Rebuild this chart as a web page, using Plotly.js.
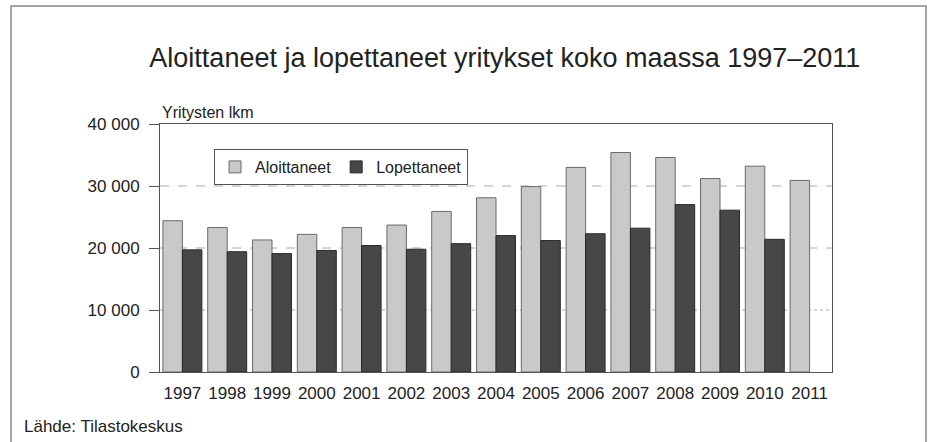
<!DOCTYPE html>
<html>
<head>
<meta charset="utf-8">
<script src="https://cdn.plot.ly/plotly-3.0.1.min.js"></script>
<style>html,body{margin:0;padding:0;background:#fff;}#chart{width:928px;height:442px;}</style>
</head>
<body>
<div id="chart"></div>
<script>
const years = ['1997','1998','1999','2000','2001','2002','2003','2004','2005','2006','2007','2008','2009','2010','2011'];
const aloittaneet = [24400, 23300, 21300, 22200, 23300, 23700, 25900, 28100, 29900, 33000, 35400, 34600, 31200, 33200, 30900];
const lopettaneet = [19700, 19400, 19100, 19600, 20400, 19800, 20700, 22000, 21200, 22300, 23200, 27000, 26100, 21400, null];
const tickVals = [0, 10000, 20000, 30000, 40000];
const tickText = ['0', '10 000', '20 000', '30 000', '40 000'];
const seriesNames = ['Aloittaneet', 'Lopettaneet'];
const titleText = 'Aloittaneet ja lopettaneet yritykset koko maassa 1997–2011';
const yTitle = 'Yritysten lkm';
const sourceText = 'Lähde: Tilastokeskus';

const font = 'Liberation Sans, Arial, Helvetica, sans-serif';
const textColor = '#222';

const traces = [
  {type:'bar', name: seriesNames[0], x: years, y: aloittaneet,
   marker:{color:'#c9c9c9', line:{color:'#6a6a6a', width:1}}},
  {type:'bar', name: seriesNames[1], x: years, y: lopettaneet,
   marker:{color:'#474747', line:{color:'#2a2a2a', width:1}}}
];

const gridShapes = tickVals.slice(1, 4).map(v => ({
  type:'line', xref:'paper', x0:0, x1:1, yref:'y', y0:v, y1:v, layer:'below',
  line:{color:'#aaa', width:1, dash: v === 10000 ? 'dot' : 'dash'}
}));

const layout = {
  width: 928, height: 442,
  margin: {l:160, r:96, t:124, b:70},
  paper_bgcolor:'#fff', plot_bgcolor:'#fff',
  font: {family: font, color: textColor, size: 16},
  barmode: 'group', bargap: 0.13, bargroupgap: 0,
  title: {text: titleText, font:{size:27, color:textColor, family: font},
          x: 0.544, xanchor:'center', y: 1 - 58/442, yanchor:'middle'},
  xaxis: {type:'category', showline:true, mirror:true, linecolor:'#555', linewidth:1,
          ticks:'', showgrid:false, tickfont:{size:17, color:textColor}, fixedrange:true,
          ticklabelstandoff:6},
  yaxis: {range:[0, 40000], tickvals: tickVals, ticktext: tickText, showgrid:false,
          showline:true, mirror:true, linecolor:'#555', linewidth:1,
          ticks:'outside', ticklen:10, tickcolor:'#555', zeroline:false,
          tickfont:{size:17, color:textColor}, fixedrange:true, ticklabelstandoff:6},
  showlegend: true,
  legend: {orientation:'h', x: (214-160)/672, xanchor:'left', y: (372-149)/248, yanchor:'top',
           bordercolor:'#555', borderwidth:1, bgcolor:'#fff',
           font:{size:16, color:textColor}, traceorder:'normal',
           tracegroupgap:0, itemwidth:30},
  shapes: gridShapes.concat([
    {type:'rect', xref:'paper', yref:'paper', x0:(11-160)/672, x1:(926-160)/672,
     y0:(372-450)/248, y1:(372-6)/248, line:{color:'#888', width:1.5}, fillcolor:'rgba(0,0,0,0)', layer:'below'}
  ]),
  annotations: [
    {text: yTitle, xref:'paper', yref:'paper', x:0, y:(372-112)/248, xanchor:'left', yanchor:'middle',
     showarrow:false, font:{size:16, color:textColor}},
    {text: sourceText, xref:'paper', yref:'paper', x:(22-160)/672, y:(372-426)/248, xanchor:'left', yanchor:'middle',
     showarrow:false, font:{size:17, color:textColor}}
  ]
};

Plotly.newPlot('chart', traces, layout, {displayModeBar:false, staticPlot:true});
</script>
</body>
</html>
